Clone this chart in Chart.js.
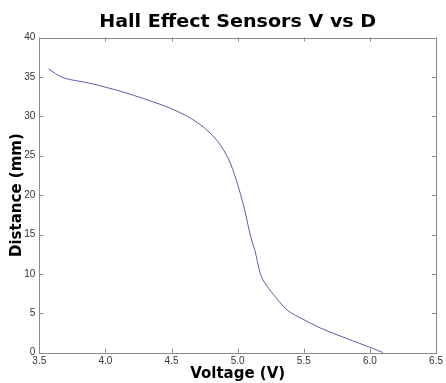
<!DOCTYPE html>
<html>
<head>
<meta charset="utf-8">
<script src="https://cdn.jsdelivr.net/npm/chart.js@4/dist/chart.umd.min.js"></script>
<style>
  html, body { margin: 0; padding: 0; background: #fff; }
  #wrap { width: 446px; height: 383px; }
</style>
</head>
<body>
<div id="wrap"><canvas id="myChart" width="446" height="383"></canvas></div>
<script>
// values
const voltage  = [3.57, 3.68, 3.88, 4.13, 4.33, 4.48, 4.63, 4.75, 4.85, 4.93, 4.99, 5.05, 5.1, 5.13, 5.17, 5.2, 5.27, 5.35, 5.4, 5.48, 5.63, 5.82, 6.02, 6.1];
const distance = [36, 34.9, 34.2, 33.1, 32.0, 31.1, 29.9, 28.5, 26.8, 24.6, 21.9, 18.3, 14.6, 13.0, 10.1, 9.0, 7.4, 5.8, 5.1, 4.37, 3.1, 1.83, 0.55, 0];
const xTicks = [3.5, 4, 4.5, 5, 5.5, 6, 6.5];
const yTicks = [0, 5, 10, 15, 20, 25, 30, 35, 40];
const titleText = 'Hall Effect Sensors V vs D';

const axisGray = '#8a8a8a';

// box round the plot + inward ticks on all four sides, and the title
const boxPlugin = {
    id: 'box',
    afterDraw(chart) {
        const c = chart.ctx;
        const a = chart.chartArea;
        const xs = chart.scales.x, ys = chart.scales.y;
        c.save();
        c.strokeStyle = axisGray;
        c.lineWidth = 1;
        c.strokeRect(Math.round(a.left) + 0.5, Math.round(a.top) + 0.5,
            Math.round(a.right - a.left), Math.round(a.bottom - a.top));
        c.beginPath();
        for (const v of xTicks) {
            const px = Math.round(xs.getPixelForValue(v)) + 0.5;
            c.moveTo(px, a.bottom); c.lineTo(px, a.bottom - 4);
            c.moveTo(px, a.top); c.lineTo(px, a.top + 4);
        }
        for (const v of yTicks) {
            const py = Math.round(ys.getPixelForValue(v)) + 0.5;
            c.moveTo(a.left, py); c.lineTo(a.left + 4, py);
            c.moveTo(a.right, py); c.lineTo(a.right - 4, py);
        }
        c.stroke();

        // heavy title, stretched to the width it has in the picture
        c.fillStyle = '#000';
        c.font = 'bold 17px "DejaVu Sans", "Liberation Sans", sans-serif';
        c.textAlign = 'center';
        c.textBaseline = 'alphabetic';
        const w = c.measureText(titleText).width;
        const sx = 277 / w;
        c.translate((a.left + a.right) / 2, 27);
        c.scale(sx, 1);
        c.fillText(titleText, 0, 0);
        c.restore();
    }
};

const ctx = document.getElementById('myChart').getContext('2d');
const myChart = new Chart(ctx, {
    type: 'line',
    data: {
        datasets: [{
            data: voltage.map((v, i) => ({x: v, y: distance[i]})),
            borderColor: '#5a5ea8',
            borderWidth: 1,
            pointRadius: 0,
            fill: false,
            tension: 0.3
        }]
    },
    options: {
        responsive: false,
        animation: false,
        layout: { padding: { top: 37.5, right: 6.5, left: 0, bottom: 0 } },
        plugins: {
            legend: { display: false },
            tooltip: { enabled: false },
            title: { display: false }
        },
        scales: {
            x: {
                type: 'linear',
                min: 3.5, max: 6.5,
                afterBuildTicks(scale) { scale.ticks = xTicks.map(v => ({value: v})); },
                afterFit(scale) { scale.height = 30.3; },
                grid: { display: false, drawTicks: false },
                border: { display: false },
                ticks: {
                    padding: 3,
                    color: '#333',
                    font: { family: '"Liberation Sans", Arial, sans-serif', size: 10 },
                    maxRotation: 0,
                    autoSkip: false
                },
                title: {
                    display: true,
                    text: 'Voltage (V)',
                    color: '#000',
                    font: { family: '"DejaVu Sans", "Liberation Sans", sans-serif', size: 15, weight: 'bold' },
                    padding: { top: 0, bottom: 0 }
                }
            },
            y: {
                type: 'linear',
                min: 0, max: 40,
                afterBuildTicks(scale) { scale.ticks = yTicks.map(v => ({value: v})); },
                afterFit(scale) { scale.width = 39.3; },
                grid: { display: false, drawTicks: false },
                border: { display: false },
                ticks: {
                    padding: 4,
                    color: '#333',
                    font: { family: '"Liberation Sans", Arial, sans-serif', size: 10 },
                    autoSkip: false
                },
                title: {
                    display: true,
                    text: 'Distance (mm)',
                    color: '#000',
                    font: { family: '"DejaVu Sans", "Liberation Sans", sans-serif', size: 15, weight: 'bold' },
                    padding: { top: 8, bottom: 0 }
                }
            }
        }
    },
    plugins: [boxPlugin]
});
</script>
</body>
</html>
